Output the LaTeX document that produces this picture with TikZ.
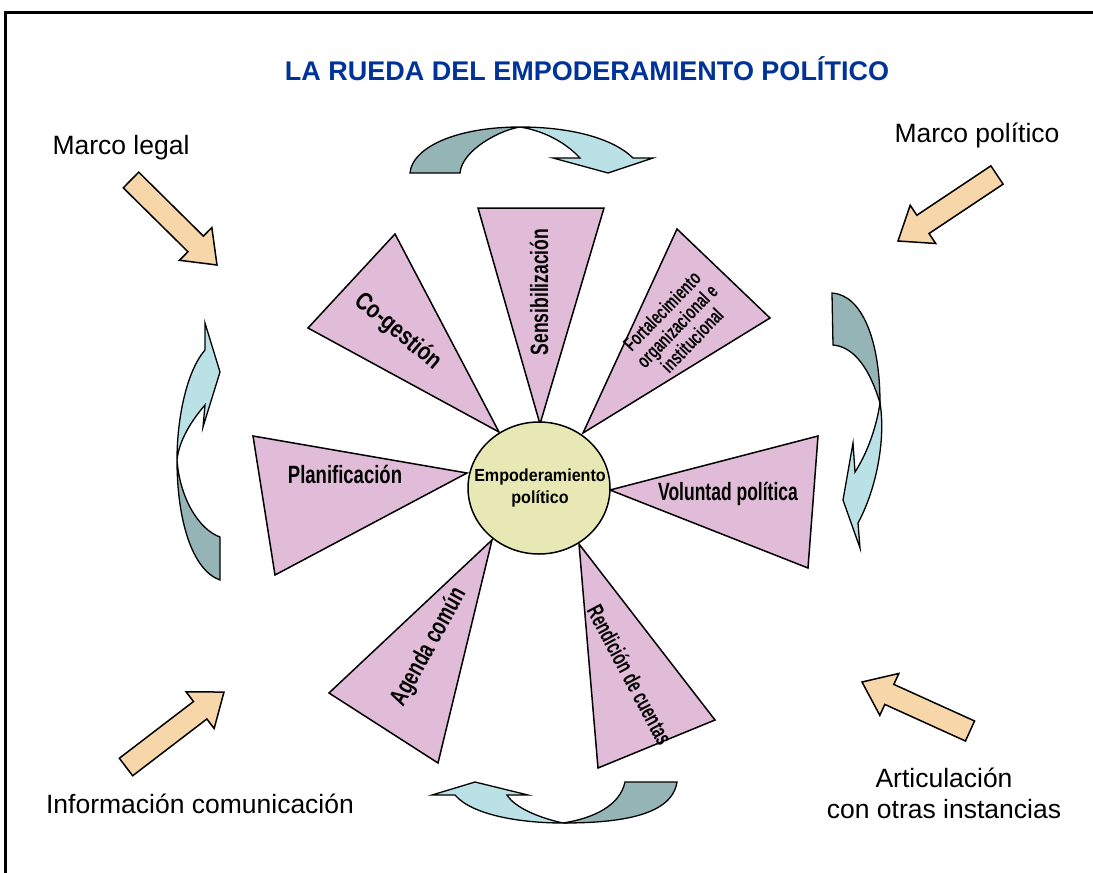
\documentclass[tikz,border=0pt]{standalone}
\usepackage{fontspec}
\setmainfont{Liberation Sans}
\usepackage{graphicx}
\usetikzlibrary{calc,shapes.geometric}
\definecolor{tripink}{RGB}{224,188,216}
\definecolor{corefill}{RGB}{232,232,180}
\definecolor{beige}{RGB}{247,214,170}
\definecolor{tealdark}{RGB}{149,180,182}
\definecolor{teallight}{RGB}{186,225,229}
\definecolor{titleblue}{RGB}{0,51,153}
\newcommand\sqz[2]{\scalebox{#1}[1]{#2}}
\newcommand\blockarrow[3]{%
  \coordinate (#3hb) at ($(#2)!30pt!(#1)$);
  \filldraw[barrow] ($(#1)!11pt!90:(#2)$) -- ($(#3hb)!11pt!-90:(#1)$) -- ($(#3hb)!23pt!-90:(#1)$) -- (#2) -- ($(#3hb)!23pt!90:(#1)$) -- ($(#3hb)!11pt!90:(#1)$) -- ($(#1)!11pt!-90:(#2)$) -- cycle;}
\begin{document}
\begin{tikzpicture}[x=1pt,y=-1pt,
  tri/.style={draw=black, line width=1.5pt, fill=tripink, line join=miter},
  barrow/.style={draw=black, line width=1.5pt, fill=beige, line join=miter},
  cdark/.style={draw=black, line width=1.3pt, fill=tealdark, line join=miter},
  clight/.style={draw=black, line width=1.3pt, fill=teallight, line join=miter},
  lab/.style={font=\fontsize{26.5}{30}\selectfont, inner sep=0pt, anchor=base},
  wtxt/.style={font=\fontsize{25}{28}\selectfont\bfseries, inner sep=0pt},
  ftxt/.style={font=\fontsize{20}{21}\selectfont\bfseries, inner sep=0pt, align=center}]
\useasboundingbox (0,0) rectangle (1093,873);
\fill[white] (0,0) rectangle (1093,873);
\draw[line width=3pt] (5,873) -- (5,12) -- (1093,12);

% title
\node[inner sep=0pt, anchor=base, font=\fontsize{27}{30}\selectfont\bfseries, text=titleblue] (title) at (587,80) {LA RUEDA DEL EMPODERAMIENTO POLÍTICO};

% outer labels
\node[lab] (mlegal) at (121,154) {Marco legal};
\node[lab] (mpol) at (977,142) {Marco político};
\node[lab] (infcom) at (200,813) {Información comunicación};
\node[lab] (artic1) at (944,787) {Articulación};
\node[lab] (artic2) at (944,818) {con otras instancias};

% block arrows
\coordinate (mlT) at (131,180); \coordinate (mlH) at (217,265);
\coordinate (mpT) at (997,175); \coordinate (mpH) at (898,241);
\coordinate (icT) at (126,767); \coordinate (icH) at (224,692);
\coordinate (arT) at (970,731); \coordinate (arH) at (862,682);
\blockarrow{mlT}{mlH}{ml}
\blockarrow{mpT}{mpH}{mp}
\blockarrow{icT}{icH}{ic}
\blockarrow{arT}{arH}{ar}

% top curved arrow
\filldraw[cdark] (410,173) .. controls (412,148) and (455,127) .. (520,127)
  .. controls (500,130) and (462,150) .. (460,173) -- cycle;
\filldraw[clight] (520,127) .. controls (575,127) and (615,140) .. (633,158)
  -- (653,158) -- (608,173) -- (553,158) -- (580,158)
  .. controls (566,143) and (545,131) .. (520,127) -- cycle;

% bottom curved arrow
\filldraw[clight] (455,795) .. controls (472,815) and (520,823) .. (563,823)
  .. controls (540,818) and (515,808) .. (507,795) -- (528,795) -- (475,782) -- (432,795) -- cycle;
\filldraw[cdark] (563,823) .. controls (622,823) and (672,815) .. (677,782)
  -- (625,782) .. controls (620,805) and (595,818) .. (563,823) -- cycle;

% left curved arrow
\filldraw[clight] (177,460) .. controls (177,420) and (186,372) .. (205,350)
  -- (205,323) -- (220,372) -- (203,427) -- (205,405)
  .. controls (192,420) and (179,440) .. (177,460) -- cycle;
\filldraw[cdark] (177,460) .. controls (177,520) and (192,570) .. (220,580)
  -- (220,537) .. controls (200,530) and (180,500) .. (177,460) -- cycle;

% right curved arrow
\filldraw[cdark] (832,293) .. controls (862,295) and (880,340) .. (880,403)
  .. controls (870,370) and (855,347) .. (833,345) -- cycle;
\filldraw[clight] (880,403) .. controls (876,430) and (866,455) .. (855,472)
  -- (853,443) -- (843,500) -- (860,548) -- (858,523)
  .. controls (876,490) and (886,440) .. (880,403) -- cycle;

% triangles
\draw[tri] (478,208) -- (604,208) -- (540,424) -- cycle;
\draw[tri] (677,229) -- (770,318) -- (583,433) -- cycle;
\draw[tri] (395,234) -- (308,328) -- (499,432) -- cycle;
\draw[tri] (253,436) -- (467,473) -- (275,575) -- cycle;
\draw[tri] (610,490) -- (818,436) -- (808,568) -- cycle;
\draw[tri] (329,693) -- (438,763) -- (492,540) -- cycle;
\draw[tri] (579,544) -- (715,720) -- (598,768) -- cycle;

% core
\node[ellipse, draw=black, line width=1.5pt, fill=corefill, minimum width=142pt, minimum height=132pt, inner sep=0pt] (core) at (539,488) {};
\node[inner sep=0pt, align=center, font=\fontsize{17.5}{22}\selectfont\bfseries] (coretxt) at (540,488) {\sqz{0.92}{Empoderamiento}\\\sqz{0.92}{político}};

% triangle texts
\node[wtxt, rotate=90] (tsens) at (539,292) {\sqz{0.7}{Sensibilización}};
\node[ftxt, rotate=46] (tfort) at (677,326) {\sqz{0.68}{Fortalecimiento}\\\sqz{0.68}{organizacional e}\\\sqz{0.68}{institucional}};
\node[wtxt, rotate=-40] (tcoge) at (398,332) {\sqz{0.8}{Co-gestión}};
\node[wtxt] (tplan) at (345,474) {\sqz{0.74}{Planificación}};
\node[wtxt] (tvol) at (728,494) {\sqz{0.7}{Voluntad política}};
\node[wtxt, rotate=61] (tagen) at (429,647) {\sqz{0.72}{Agenda común}};
\node[wtxt, rotate=-62, font=\fontsize{23}{26}\selectfont\bfseries] (trend) at (630,675) {\sqz{0.65}{Rendición de cuentas}};
\end{tikzpicture}
\end{document}
